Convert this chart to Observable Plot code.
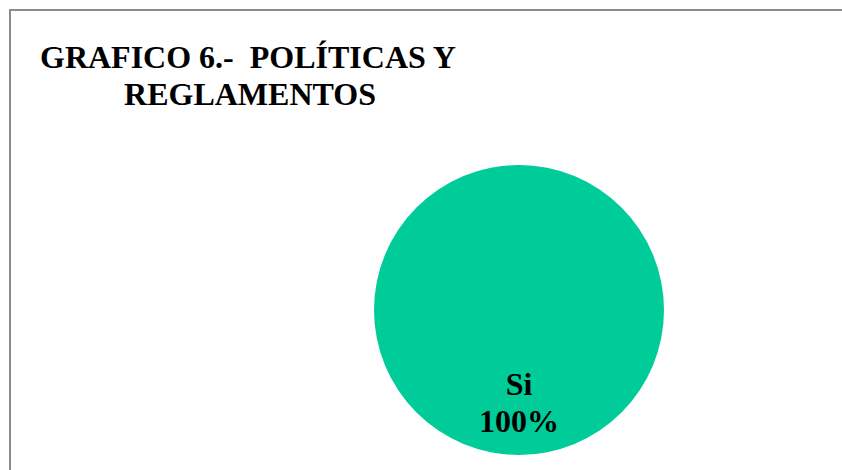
<!DOCTYPE html>
<html><head><meta charset="utf-8">
<script src="https://cdn.jsdelivr.net/npm/d3@7"></script>
<script src="https://cdn.jsdelivr.net/npm/@observablehq/plot@0.6"></script>
<style>
body{margin:0;background:#fff;overflow:hidden;width:842px;height:470px;position:relative}
#frame{position:absolute;left:9px;top:9px;width:900px;height:520px;border:2px solid #8c8c8c;box-sizing:border-box}
#title{position:absolute;left:40px;top:39px;width:420px;text-align:center;font-family:"Liberation Serif","Times New Roman",serif;font-weight:bold;font-size:32px;line-height:37px;color:#000;white-space:pre}
#chart{position:absolute;left:0;top:0}
</style>
</head><body>
<div id="frame"></div>
<div id="title">GRAFICO 6.-  POLÍTICAS Y 
REGLAMENTOS</div>
<div id="chart"></div>
<script>
const categories = ["Si"];
const values = [100];
const colors = ["#00cc99"];

const data = categories.map((c, i) => ({category: c, value: values[i], color: colors[i]}));
const total = d3.sum(values);

function pieMark(index, scales, vals, dims) {
  const {width, height, marginLeft, marginRight, marginTop, marginBottom} = dims;
  const w = width - marginLeft - marginRight, h = height - marginTop - marginBottom;
  const r = Math.min(w, h) / 2;
  const cx = marginLeft + w / 2, cy = marginTop + h / 2;
  const arcs = d3.pie().sort(null).value(d => d.value)(data);
  const arc = d3.arc().innerRadius(0).outerRadius(r);
  const labelArc = d3.arc().innerRadius(r * 0.64).outerRadius(r * 0.64);
  const g = d3.create("svg:g").attr("transform", `translate(${cx},${cy})`);
  g.selectAll("path").data(arcs).join("path")
    .attr("d", arc).attr("fill", d => d.data.color);
  const t = g.selectAll("text").data(arcs).join("text")
    .attr("transform", d => `translate(${labelArc.centroid(d)})`)
    .attr("text-anchor", "middle")
    .attr("font-family", "'Liberation Serif','Times New Roman',serif")
    .attr("font-weight", "bold")
    .attr("font-size", 32)
    .attr("fill", "#000");
  t.append("tspan").attr("x", 0).attr("y", -8).text(d => d.data.category);
  t.append("tspan").attr("x", 0).attr("y", 29).text(d => d3.format(".0%")(d.data.value / total));
  return g.node();
}

const chart = Plot.plot({
  width: 842,
  height: 470,
  marginLeft: 374,
  marginRight: 178,
  marginTop: 165,
  marginBottom: 15,
  style: {background: "transparent"},
  marks: [pieMark]
});
document.getElementById("chart").appendChild(chart);
</script>
</body></html>
